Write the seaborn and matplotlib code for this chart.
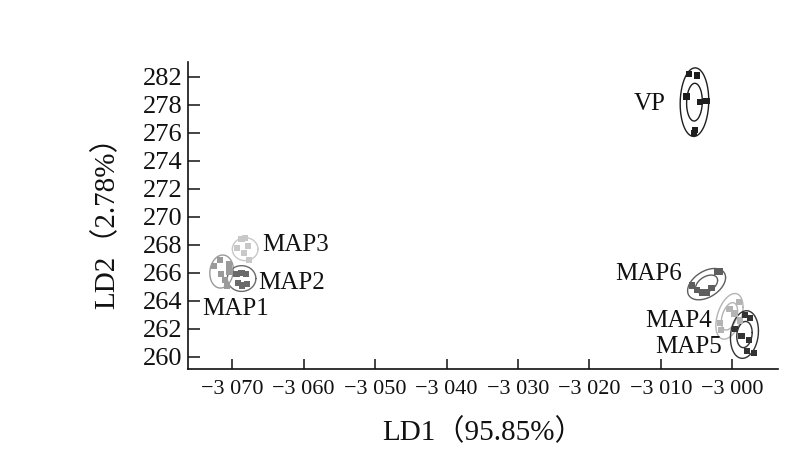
import numpy as np
import pandas as pd
import matplotlib
matplotlib.use("Agg")
import matplotlib.pyplot as plt
import seaborn as sns

# LD scores per group
vp_x = [-3006.1, -3004.9, -3006.4, -3004.5, -3003.6, -3005.2, -3005.4]
vp_y = [280.2, 280.1, 278.6, 278.2, 278.3, 276.2, 276.0]
map1_x = [-3072.6, -3071.7, -3070.5, -3070.4, -3071.6, -3071.0, -3070.7]
map1_y = [266.5, 266.9, 266.6, 266.1, 265.9, 265.5, 265.1]
map2_x = [-3069.4, -3068.7, -3068.1, -3069.2, -3068.6, -3067.9]
map2_y = [265.9, 266.0, 265.9, 265.3, 265.1, 265.2]
map3_x = [-3069.3, -3068.7, -3068.2, -3067.8, -3068.4, -3067.7]
map3_y = [267.8, 268.4, 268.5, 267.9, 267.4, 266.9]
map4_x = [-2999.1, -3000.4, -2999.7, -2998.9, -3001.7, -3001.6]
map4_y = [263.9, 263.4, 263.1, 262.6, 262.4, 261.9]
map5_x = [-2998.2, -2997.5, -2999.6, -2998.7, -2997.7, -2997.9, -2997.0]
map5_y = [263.0, 262.8, 262.0, 261.5, 261.2, 260.4, 260.3]
map6_x = [-3005.6, -3004.9, -3004.2, -3003.5, -3002.9, -3002.1, -3001.7]
map6_y = [265.1, 264.8, 264.6, 264.6, 264.9, 266.1, 266.1]

groups = ["VP", "MAP1", "MAP2", "MAP3", "MAP4", "MAP5", "MAP6"]
xs = [vp_x, map1_x, map2_x, map3_x, map4_x, map5_x, map6_x]
ys = [vp_y, map1_y, map2_y, map3_y, map4_y, map5_y, map6_y]

# outer ellipse per group: centre, half extent along LD1 / LD2, correlation
ell_cx = [-3005.3, -3071.5, -3068.7, -3068.2, -3000.4, -2998.3, -3003.6]
ell_cy = [278.2, 266.1, 265.6, 267.7, 262.9, 261.6, 265.2]
ell_hx = [2.0, 1.65, 2.0, 1.8, 1.9, 1.96, 2.66]
ell_hy = [2.45, 1.18, 0.92, 0.82, 1.63, 1.7, 1.12]
ell_rho = [0.05, 0.1, 0.0, 0.0, 0.4, 0.15, 0.42]
# inner ellipse size relative to outer (0 = none)
ell_inner = [0.55, 0, 0, 0, 0.6, 0.55, 0.58]

x_ticks = [-3070, -3060, -3050, -3040, -3030, -3020, -3010, -3000]
x_tick_labels = ["\u22123 070", "\u22123 060", "\u22123 050", "\u22123 040",
                 "\u22123 030", "\u22123 020", "\u22123 010", "\u22123 000"]
y_ticks = [260, 262, 264, 266, 268, 270, 272, 274, 276, 278, 280]
y_tick_labels = ["260", "262", "264", "266", "268", "270", "272", "274",
                 "276", "278", "282"]

colors = {"VP": "#1e1e1e", "MAP1": "#9a9a9a", "MAP2": "#6a6a6a",
          "MAP3": "#c8c8c8", "MAP4": "#b4b4b4", "MAP5": "#333333",
          "MAP6": "#5e5e5e"}

# label anchors (data coords) and alignment
label_pos = {"VP": (-3009.4, 278.1, "right"), "MAP1": (-3074.2, 263.4, "left"),
             "MAP2": (-3066.4, 265.3, "left"), "MAP3": (-3065.8, 268.0, "left"),
             "MAP4": (-3002.8, 262.6, "right"), "MAP5": (-3001.5, 260.7, "right"),
             "MAP6": (-3007.0, 265.9, "right")}

rows = []
for g, gx, gy in zip(groups, xs, ys):
    for a, b in zip(gx, gy):
        rows.append((g, a, b))
df = pd.DataFrame(rows, columns=["group", "LD1", "LD2"])

sns.set_style("ticks")
plt.rcParams['font.family'] = ['Liberation Serif', 'Noto Sans CJK SC']
plt.rcParams['axes.unicode_minus'] = True

fig = plt.figure(figsize=(8.08, 4.65), dpi=100)
ax = fig.add_axes([0.2327, 0.2065, 0.7302, 0.6602])

t = np.linspace(0, 2 * np.pi, 200)
for i, g in enumerate(groups):
    phase = np.arccos(ell_rho[i])
    for k in [1.0, ell_inner[i]]:
        if k == 0:
            continue
        ex = ell_cx[i] + k * ell_hx[i] * np.cos(t)
        ey = ell_cy[i] + k * ell_hy[i] * np.cos(t - phase)
        ax.plot(ex, ey, color=colors[g], lw=1.0, zorder=2)

sns.scatterplot(data=df, x="LD1", y="LD2", hue="group", palette=colors,
                marker="s", s=20, linewidth=0, legend=False, ax=ax, zorder=3)

for g in groups:
    lx, ly, ha = label_pos[g]
    ax.text(lx, ly, g, ha=ha, va="center", fontsize=18, color="#111111")

ax.set_xlim(-3076.2, -2993.6)
ax.set_ylim(259.14, 281.07)
ax.set_xticks(x_ticks)
ax.set_xticklabels(x_tick_labels, fontsize=16)
ax.set_yticks(y_ticks)
ax.set_yticklabels(y_tick_labels, fontsize=19)
ax.tick_params(axis="y", direction="in", length=8.5, width=1.1, pad=4, colors="#111111")
ax.tick_params(axis="x", direction="in", length=7, width=1.1, pad=8, colors="#111111")
for s in ["top", "right"]:
    ax.spines[s].set_visible(False)
for s in ["left", "bottom"]:
    ax.spines[s].set_linewidth(1.2)
    ax.spines[s].set_color("#111111")

ax.set_xlabel("LD1\uff0895.85%\uff09", fontsize=21, labelpad=14, color="#111111")
ax.set_ylabel("LD2\uff082.78%\uff09", fontsize=21, labelpad=16, color="#111111")

fig.savefig("out.png", dpi=100)
